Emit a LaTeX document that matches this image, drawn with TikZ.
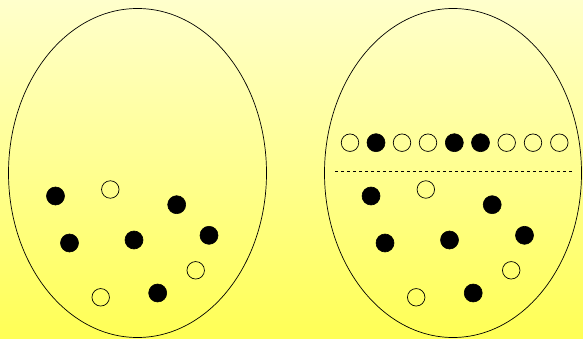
\documentclass[tikz,border=0pt]{standalone}
\definecolor{bgtop}{RGB}{255,255,204}
\definecolor{bgbot}{RGB}{255,255,85}
\begin{document}
\begin{tikzpicture}[x=1pt,y=-1pt,
  blackdot/.style={circle,fill=black,draw=black,line width=0.6pt,minimum size=18pt,inner sep=0pt},
  whitedot/.style={circle,draw=black,line width=0.7pt,minimum size=17.5pt,inner sep=0pt},
  urn/.style={draw=black,line width=0.7pt}]
\shade[top color=bgtop,bottom color=bgbot] (0,0) rectangle (583,339);
\useasboundingbox (0,0) rectangle (583,339);
% urns
\draw[urn] (137.5,173) ellipse [x radius=129,y radius=164.5];
\draw[urn] (453,173) ellipse [x radius=128.5,y radius=164.5];
% left urn balls
\node[blackdot] (l1) at (55.5,196) {};
\node[whitedot] (l2) at (110.3,189.5) {};
\node[blackdot] (l3) at (176.7,204.7) {};
\node[blackdot] (l4) at (69.5,243) {};
\node[blackdot] (l5) at (134,240) {};
\node[blackdot] (l6) at (209,235.3) {};
\node[whitedot] (l7) at (195.7,270.3) {};
\node[whitedot] (l8) at (100.7,297.3) {};
\node[blackdot] (l9) at (157.7,293) {};
% right urn balls
\begin{scope}[shift={(315.5,0)}]
\node[blackdot] (r1) at (55.5,196) {};
\node[whitedot] (r2) at (110.3,189.5) {};
\node[blackdot] (r3) at (176.7,204.7) {};
\node[blackdot] (r4) at (69.5,243) {};
\node[blackdot] (r5) at (134,240) {};
\node[blackdot] (r6) at (209,235.3) {};
\node[whitedot] (r7) at (195.7,270.3) {};
\node[whitedot] (r8) at (100.7,297.3) {};
\node[blackdot] (r9) at (157.7,293) {};
\end{scope}
% drawn sequence
\node[whitedot] (s1) at (350,142.7) {};
\node[blackdot] (s2) at (376,142.7) {};
\node[whitedot] (s3) at (402,142.7) {};
\node[whitedot] (s4) at (428,142.7) {};
\node[blackdot] (s5) at (454.3,142.7) {};
\node[blackdot] (s6) at (480.5,142.7) {};
\node[whitedot] (s7) at (506.7,142.7) {};
\node[whitedot] (s8) at (533,142.7) {};
\node[whitedot] (s9) at (559.3,142.7) {};
% separator
\coordinate (d1) at (335,171.7);
\coordinate (d2) at (573,171.7);
\draw[line width=0.7pt,dash pattern=on 3.3pt off 2.7pt] (d1) -- (d2);
\end{tikzpicture}
\end{document}
